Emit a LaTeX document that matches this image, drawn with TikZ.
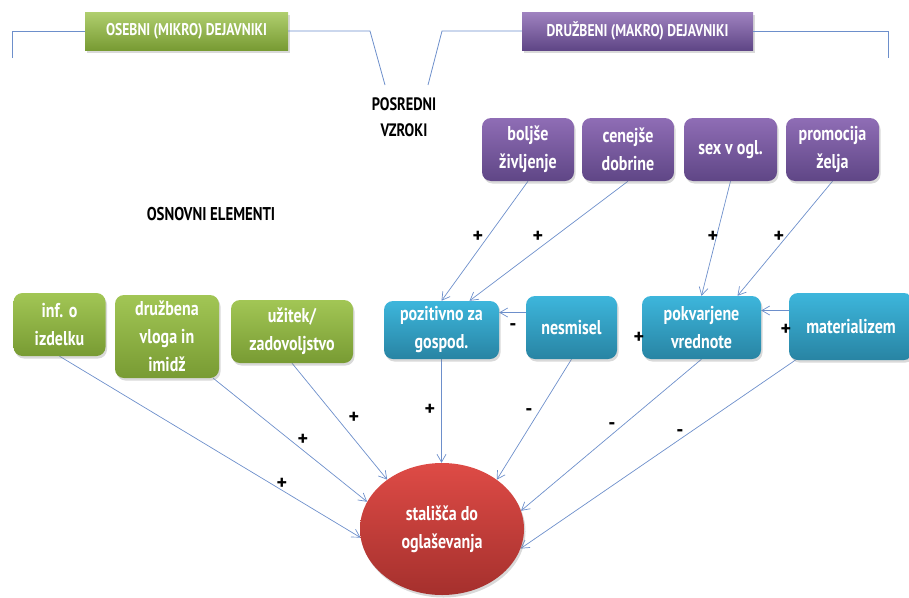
\documentclass[tikz,border=0pt]{standalone}
\usepackage{fontspec}
\setmainfont[FakeStretch=0.8]{PT Sans}
\newfontfamily\signfont{PT Sans}
\usetikzlibrary{shapes.geometric,shadows,arrows.meta,backgrounds}

\definecolor{linkblue}{HTML}{6D8FCB}
\definecolor{greenT}{HTML}{A2C655}
\definecolor{greenB}{HTML}{789B33}
\definecolor{purpT}{HTML}{8F6DB5}
\definecolor{purpB}{HTML}{5F4686}
\definecolor{blueT}{HTML}{3DB6DC}
\definecolor{blueB}{HTML}{2884A3}
\definecolor{redT}{HTML}{DE4B46}
\definecolor{redB}{HTML}{A5302D}

\begin{document}
\begin{tikzpicture}[x=1pt,y=-1pt,
  boxbase/.style={text=white, align=center, inner sep=0pt,
    font=\fontsize{20}{28}\selectfont\bfseries,
    drop shadow={opacity=0.3, shadow xshift=1.5pt, shadow yshift=-2.5pt}},
  roundbox/.style={boxbase, rounded corners=9pt},
  greenbox/.style={roundbox, top color=greenT, bottom color=greenB},
  purplebox/.style={roundbox, top color=purpT, bottom color=purpB},
  bluebox/.style={roundbox, top color=blueT, bottom color=blueB},
  headbox/.style={boxbase, font=\fontsize{17}{20}\selectfont\bfseries, minimum height=38pt},
  arr/.style={draw=linkblue, line width=0.7pt, -{Straight Barb[angle=60:9pt]}},
  bracket/.style={draw=linkblue, line width=0.8pt},
  sign/.style={font=\signfont\fontsize{20}{20}\selectfont\bfseries, text=black, inner sep=0pt},
  caption/.style={font=\fontsize{18}{28}\selectfont\bfseries, text=black, align=center, inner sep=0pt}
]
\useasboundingbox (0,0) rectangle (909,597);

% group headers
\node[headbox, minimum width=203pt, top color=greenT!85!white, bottom color=greenB] (gh) at (186.5,31) {OSEBNI (MIKRO) DEJAVNIKI};
\node[headbox, minimum width=231pt, top color=purpT!85!white, bottom color=purpB] (ph) at (637.5,31) {DRUŽBENI (MAKRO) DEJAVNIKI};

% bracket lines
\coordinate (lb) at (12,58);
\coordinate (lc) at (12,31);
\coordinate (mlc) at (370,31);
\coordinate (mle) at (385,85);
\coordinate (mre) at (428,85);
\coordinate (mrc) at (442,31);
\coordinate (rc) at (888,31);
\coordinate (rb) at (888,58);
\draw[bracket] (lb) -- (lc) -- (gh.west);
\draw[bracket] (gh.east) -- (mlc) -- (mle);
\draw[bracket] (mre) -- (mrc) -- (ph.west);
\draw[bracket] (ph.east) -- (rc) -- (rb);

% captions
\node[caption] (posr) at (404,117) {POSREDNI\\[-2pt]VZROKI};
\node[caption, font=\fontsize{18.5}{20}\selectfont\bfseries] (osn) at (211,214) {OSNOVNI ELEMENTI};

% social factors
\node[purplebox, minimum width=92pt, minimum height=63pt] (bolj) at (528,149.5) {boljše\\življenje};
\node[purplebox, minimum width=92pt, minimum height=63pt] (cen) at (628,149.5) {cenejše\\dobrine};
\node[purplebox, minimum width=93pt, minimum height=63pt] (sex) at (730.5,149.5) {sex v ogl.};
\node[purplebox, minimum width=93pt, minimum height=63pt] (prom) at (832.5,149.5) {promocija\\želja};

% personal factors
\node[greenbox, minimum width=92pt, minimum height=63pt] (inf) at (59.5,324.5) {inf. o\\izdelku};
\node[greenbox, minimum width=104pt, minimum height=83pt] (druz) at (167,336.5) {družbena\\vloga in\\imidž};
\node[greenbox, minimum width=122pt, minimum height=63pt] (uzi) at (292,331.5) {užitek/\\zadovoljstvo};

% intermediate causes
\node[bluebox, minimum width=115pt, minimum height=58pt] (poz) at (441.5,330) {pozitivno za\\gospod.};
\node[bluebox, minimum width=91pt, minimum height=63pt] (nes) at (571.5,327.5) {nesmisel};
\node[bluebox, minimum width=119pt, minimum height=63pt] (pok) at (701.5,327.5) {pokvarjene\\vrednote};
\node[bluebox, minimum width=124pt, minimum height=67pt] (mat) at (851,326.5) {materializem};

% attitude
\node[ellipse, boxbase, minimum width=164pt, minimum height=132pt,
      top color=redT, bottom color=redB] (ell) at (442,529) {stališča do\\oglaševanja};

% connectors
\begin{scope}[on background layer]
\draw[arr] (bolj.south) -- (poz.north);
\draw[arr] (cen.south) -- ([xshift=28pt]poz.north);
\draw[arr] (sex.south) -- (pok.north);
\draw[arr] (prom.south) -- ([xshift=36pt]pok.north);
\draw[arr] ([yshift=15pt]nes.west) -- ([yshift=15pt]nes.west -| poz.east);
\draw[arr] ([yshift=16pt]mat.west) -- ([yshift=16pt]mat.west -| pok.east);

\draw[arr] (inf.south) -- (ell.186);
\draw[arr] ([xshift=-6pt]druz.south east) -- (ell.160);
\draw[arr] (uzi.south) -- (ell.138);
\draw[arr] (poz.south) -- (poz.south |- ell.north);
\draw[arr] (nes.south) -- (ell.42);
\draw[arr] (pok.south) -- (ell.13);
\draw[arr] ([xshift=-11pt,yshift=-3pt]mat.center) -- (ell.-14);
\end{scope}

% signs
\node[sign] (s1) at (478,237) {+};
\node[sign] (s2) at (538,237) {+};
\node[sign] (s3) at (713,237) {+};
\node[sign] (s4) at (779,237) {+};
\node[sign] (s5) at (513,327) {-};
\node[sign] (s6) at (639,338) {+};
\node[sign] (s7) at (786,330) {+};
\node[sign] (s8) at (282,484) {+};
\node[sign] (s9) at (303,440) {+};
\node[sign] (s10) at (354,418) {+};
\node[sign] (s11) at (430,410) {+};
\node[sign] (s12) at (529,412) {-};
\node[sign] (s13) at (612,426) {-};
\node[sign] (s14) at (680,433) {-};
\end{tikzpicture}
\end{document}
